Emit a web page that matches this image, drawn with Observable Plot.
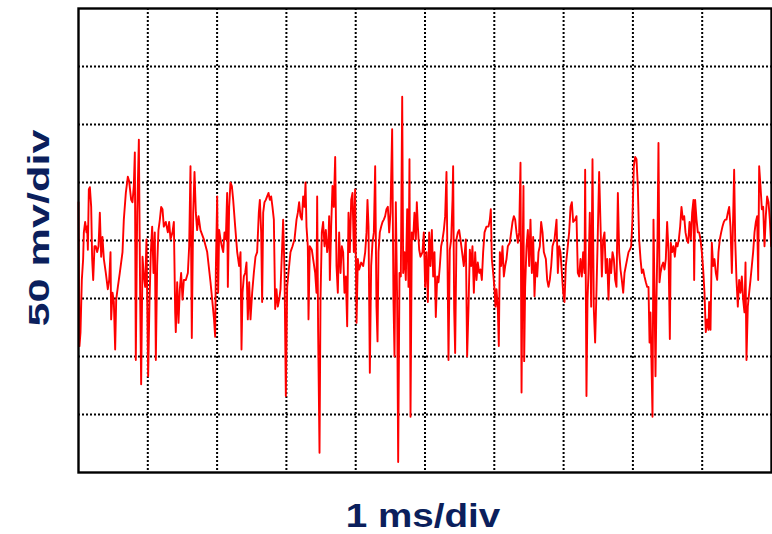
<!DOCTYPE html>
<html>
<head>
<meta charset="utf-8">
<script src="https://cdn.jsdelivr.net/npm/d3@7"></script>
<script src="https://cdn.jsdelivr.net/npm/@observablehq/plot@0.6"></script>
<style>
  html, body { margin: 0; padding: 0; background: #ffffff; }
  #scope { position: relative; width: 772px; height: 534px; overflow: hidden; background: #ffffff; }
  #scope svg { position: absolute; left: 0; top: 0; }
  .lbl {
    position: absolute;
    font-family: "Liberation Sans", Arial, sans-serif;
    font-weight: bold;
    color: #0b1f5c;
    line-height: 1;
    white-space: nowrap;
  }
</style>
</head>
<body>
<div id="scope"></div>
<script>
// Oscilloscope capture: time in ms (1 ms/div), amplitude in mV (50 mV/div)
const timeMs = [
  0.000,0.014,0.029,0.048,0.067,0.077,0.096,0.115,0.125,0.135,0.149,0.164,0.183,0.197,0.212,0.231,0.250,0.269,0.289,0.308,
  0.327,0.346,0.366,0.394,0.423,0.443,0.462,0.471,0.491,0.510,0.529,0.544,0.568,0.596,0.635,0.654,0.683,0.712,0.731,0.760,
  0.779,0.798,0.813,0.827,0.847,0.871,0.890,0.904,0.924,0.943,0.962,0.981,1.005,1.025,1.044,1.063,1.082,1.101,1.116,1.135,
  1.154,1.174,1.193,1.212,1.231,1.260,1.289,1.308,1.328,1.356,1.376,1.395,1.404,1.424,1.443,1.462,1.481,1.501,1.520,1.549,
  1.578,1.597,1.616,1.635,1.655,1.674,1.693,1.712,1.732,1.760,
  1.809,1.857,1.905,1.929,1.953,1.972,1.982,2.001,2.015,2.030,2.049,2.068,2.088,2.107,2.126,2.145,2.155,2.174,2.193,2.213,
  2.232,2.261,2.290,2.318,2.338,2.352,2.367,2.386,2.405,2.424,2.443,2.463,2.482,2.506,2.530,2.554,2.578,2.602,2.617,2.636,
  2.650,2.665,2.684,2.703,2.722,2.742,2.761,2.780,2.799,2.819,2.838,2.857,2.876,2.896,2.915,2.939,2.953,2.973,2.992,3.011,
  3.030,3.059,3.088,3.117,3.146,3.165,3.184,3.203,3.223,3.242,3.261,3.276,3.290,3.309,3.319,3.338,3.367,3.386,3.415,3.434,
  3.444,3.458,3.478,3.492,3.511,3.530,3.550,3.569,3.588,3.607,3.617,3.627,3.646,3.665,3.684,3.704,3.723,3.742,3.761,3.781,
  3.800,3.819,3.838,3.858,3.877,3.896,3.915,3.935,3.954,3.973,3.992,4.012,4.031,4.050,4.079,4.108,4.137,4.156,4.170,4.185,
  4.204,4.223,4.242,4.262,4.281,4.300,4.315,4.329,4.348,4.368,4.387,4.406,4.425,4.444,4.464,4.483,4.502,4.526,4.545,4.560,
  4.579,4.598,4.613,4.632,4.651,4.671,4.685,4.704,4.723,4.743,4.762,4.776,4.791,4.810,4.829,4.848,4.868,4.882,4.897,4.916,
  4.935,4.964,4.983,5.002,5.022,5.041,5.060,5.079,5.099,5.118,5.137,5.156,5.176,5.195,5.214,5.233,5.253,5.272,5.291,5.310,
  5.325,5.339,5.358,5.378,5.397,5.406,5.421,5.435,5.454,5.474,5.493,5.512,
  5.560,5.589,5.608,5.628,5.647,5.666,5.685,5.705,5.724,5.743,5.762,5.782,5.801,5.820,5.839,5.859,5.887,5.916,5.936,5.950,
  5.964,5.984,6.003,6.017,6.032,6.051,6.065,6.080,6.099,6.118,6.138,6.157,6.176,6.195,6.224,6.243,6.263,6.282,6.301,6.320,
  6.340,6.359,6.378,6.393,6.407,6.421,6.431,6.445,6.465,6.484,6.503,6.522,6.542,6.561,6.580,6.599,6.619,6.638,6.657,6.676,
  6.696,6.715,6.744,6.763,6.782,6.801,6.821,6.840,6.869,6.898,6.917,6.936,6.955,6.975,6.994,7.013,7.032,7.052,7.080,7.100,
  7.119,7.138,7.167,7.186,7.205,7.225,7.244,7.263,7.282,7.302,7.311,7.330,7.345,7.359,7.378,7.398,7.417,7.436,7.455,7.475,
  7.494,7.513,
  7.552,7.571,7.590,7.609,7.629,7.648,7.667,7.686,7.706,7.725,7.744,7.763,7.783,7.802,7.821,7.840,7.860,7.879,7.898,7.917,
  7.937,7.956,7.975,7.994,8.013,8.033,8.052,8.071,8.090,8.110,8.129,8.148,8.167,8.187,8.206,8.225,8.240,8.254,8.268,8.283,
  8.297,8.312,8.326,8.340,8.355,8.369,8.384,8.398,8.418,8.437,8.456,8.475,8.494,8.514,8.533,8.547,8.567,8.586,8.605,8.624,
  8.644,8.663,8.682,8.701,8.721,8.740,8.759,8.778,8.798,8.817,8.836,8.855,8.874,8.884,8.898,8.918,8.937,8.956,8.975,8.995,
  9.014,9.033,9.052,9.072,9.091,9.100,9.120,9.139,9.158,9.177,9.197,9.216,9.235,9.254,9.274,9.293,9.312,9.331,9.351,9.370,
  9.389,9.408,9.428,9.447,9.461,9.476,9.495,9.514,9.533,9.553,9.572,9.591,9.610,9.625,9.639,9.658,9.678,9.697,9.716,9.735,
  9.755,9.774,9.793,9.808,9.822,9.841,9.861,9.880,9.899,9.918,9.937,9.957,9.976,9.995
];

const signalMv = [
  33,-91,-79,-34,-16,7,16,7,12,-8,44,46,29,-16,-34,-5,-5,-10,-5,24,
  -14,3,-16,-28,-42,-34,-10,-68,-45,-53,-94,-51,-40,-28,-10,18,41,55,51,35,
  33,47,76,-103,24,87,-51,-124,-14,-31,-40,1,-117,-51,-10,12,-28,7,-103,-22,
  9,18,29,27,12,16,7,16,1,7,16,-62,-79,-36,-71,-42,-28,-51,-34,-34,
  -28,-5,64,-84,24,59,24,9,21,9,
  1,-10,-36,-51,-66,-83,-25,38,-45,9,1,-5,-10,7,1,41,-40,29,50,47,
  35,12,-10,-22,-10,-94,-45,-31,-28,-19,-68,-36,-68,-45,-28,-14,-10,24,35,7,
  -53,24,33,35,38,41,35,38,29,18,-59,-42,-57,-51,-42,-5,18,-28,-134,-40,
  -28,-10,-5,1,18,24,33,21,18,38,29,50,12,-5,-68,-5,-8,-16,-28,-45,
  38,-79,-183,-51,7,16,-5,9,-10,1,21,-34,12,47,29,72,-22,-45,7,-28,
  -5,-10,-45,-31,-74,24,-10,35,41,-10,44,-71,-16,-25,-19,-22,-10,7,35,12,
  -114,-22,-2,7,64,-57,-87,-10,7,12,16,18,21,27,29,7,24,96,-51,-100,
  33,-51,-191,-28,-31,124,-28,-10,-34,27,-40,70,-152,7,1,24,1,33,12,-8,
  -14,-10,7,-40,-10,-53,7,-22,9,-31,-10,-66,-31,-36,-22,-5,1,9,21,59,
  -19,-103,-8,1,35,64,-59,-97,1,7,9,1,
  -22,1,-100,-57,-8,-22,-5,-45,-10,-34,-19,-28,-25,-34,-10,7,12,12,18,27,
  -16,-28,-42,-57,-42,-59,-91,-10,-22,-5,-31,-22,-16,-5,-2,7,16,21,18,7,
  -2,7,67,-131,-22,47,-104,-40,-5,9,-22,18,-28,3,-48,-19,-31,-10,-5,16,
  7,-10,-16,-34,-40,-34,-22,-5,1,18,-28,-5,-10,-28,-45,-53,-22,-10,7,29,
  33,16,18,21,-28,-31,-16,-31,-10,-28,61,-134,-51,-28,24,-57,70,-59,-88,-42,
  7,59,
  -31,1,7,-28,-16,-51,-16,-28,-10,-16,-34,-40,41,-10,-25,-34,-45,-28,-22,-16,
  -10,-8,-5,18,64,72,70,47,1,-16,-28,-25,-31,-36,-40,-40,-88,-62,-105,-152,
  18,-45,-117,-51,1,84,-36,-28,-22,-19,-25,-16,16,-10,-85,-2,-10,-5,-14,-2,
  -5,1,12,29,18,21,7,1,-2,16,1,24,35,-34,35,18,7,7,1,-10,
  -25,-45,-79,-68,-77,-53,-77,-2,-22,-16,-28,-34,-10,1,7,12,16,18,18,24,
  29,12,-28,21,61,1,-34,-57,-34,-45,-31,-51,-62,-19,-103,-57,-45,-34,-22,-10,
  7,16,21,-34,64,47,27,29,-5,21,38,33,18,-5
];

// Graticule: 10 horizontal and 8 vertical divisions
const timeDivs = [1, 2, 3, 4, 5, 6, 7, 8, 9];
const voltDivs = [-150, -100, -50, 0, 50, 100, 150];
const timeRange = [0, 10];
const voltRange = [-200, 200];

const samples = timeMs.map((t, i) => ({t, v: signalMv[i]}));

const chart = Plot.plot({
  width: 772,
  height: 480,
  marginLeft: 78,
  marginRight: 1,
  marginTop: 8,
  marginBottom: 8,
  x: {domain: timeRange, axis: null},
  y: {domain: voltRange, axis: null},
  style: {background: "#ffffff"},
  marks: [
    Plot.ruleX(timeDivs, {stroke: "#000", strokeWidth: 2, strokeDasharray: "2,2"}),
    Plot.ruleY(voltDivs, {stroke: "#000", strokeWidth: 2, strokeDasharray: "2,2"}),
    Plot.line(samples, {x: "t", y: "v", stroke: "#ff0000", strokeWidth: 1.9, strokeLinejoin: "round"}),
    Plot.frame({stroke: "#000", strokeWidth: 2.4})
  ]
});

const scope = document.getElementById("scope");
scope.appendChild(chart);

const xLabel = document.createElement("div");
xLabel.className = "lbl";
xLabel.textContent = "1 ms/div";
xLabel.style.fontSize = "33px";
xLabel.style.left = "423px";
xLabel.style.top = "515px";
xLabel.style.transform = "translate(-50%, -50%) scaleX(1.17)";
scope.appendChild(xLabel);

const yLabel = document.createElement("div");
yLabel.className = "lbl";
yLabel.textContent = "50 mv/div";
yLabel.style.fontSize = "29px";
yLabel.style.left = "39px";
yLabel.style.top = "228px";
yLabel.style.transform = "translate(-50%, -50%) rotate(-90deg) scaleX(1.49)";
scope.appendChild(yLabel);
</script>
</body>
</html>
